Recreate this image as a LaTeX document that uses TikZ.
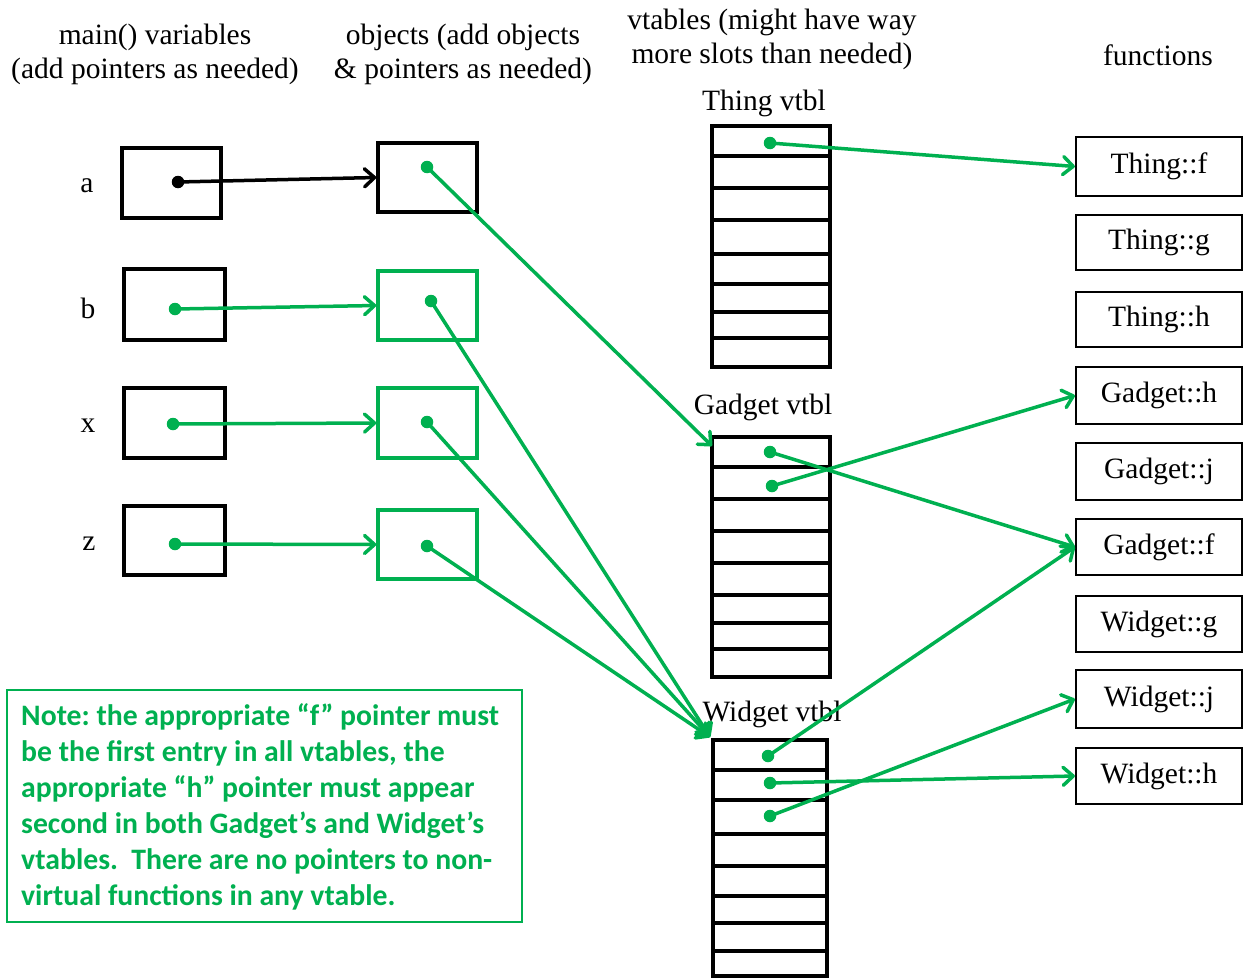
\documentclass[tikz,border=0pt]{standalone}
\usepackage{fontspec}
\setmainfont{Liberation Serif}
\newfontfamily\notefont{Carlito}
\usetikzlibrary{arrows.meta}
\definecolor{ogreen}{HTML}{00B050}
\tikzset{
  box/.style={draw=black, line width=3.5pt, inner sep=0pt},
  fbox/.style={draw=black, line width=2.2pt, inner sep=0pt, minimum width=166pt, font=\fontsize{29.5}{34}\selectfont},
  gbox/.style={draw=ogreen, line width=3.5pt, inner sep=0pt},
  vt/.style={draw=black, line width=4pt, inner sep=0pt, minimum width=118pt},
  slot/.style={line width=4pt},
  lbl/.style={font=\fontsize{29.5}{34}\selectfont, align=center, inner sep=0pt},
  gdot/.style={circle, fill=ogreen, inner sep=0pt, minimum size=12.5pt},
  kdot/.style={circle, fill=black, inner sep=0pt, minimum size=12.5pt},
  gptr/.style={draw=ogreen, line width=3.5pt, -{Straight Barb[length=10pt,width=18pt,round]}},
  kptr/.style={draw=black, line width=3.5pt, -{Straight Barb[length=10pt,width=18pt,round]}},
}
\begin{document}
\begin{tikzpicture}[x=1pt,y=-1pt]
\useasboundingbox (0,0) rectangle (1246,979);
% headers
\node[lbl] (h1) at (155,54) {main() variables\\(add pointers as needed)};
\node[lbl] (h2) at (463,54) {objects (add objects\\\& pointers as needed)};
\node[lbl] (h3) at (772,39) {vtables (might have way\\more slots than needed)};
\node[lbl] (h4) at (1158,55) {functions};
% variable labels
\node[lbl] (la) at (87,186) {a};
\node[lbl] (lb) at (88,308) {b};
\node[lbl] (lx) at (88,426) {x};
\node[lbl] (lz) at (89,544) {z};
% variable boxes
\node[box, minimum width=99pt, minimum height=70pt] (va) at (171.5,183) {};
\node[box, minimum width=101pt, minimum height=71pt] (vb) at (174.5,304.5) {};
\node[box, minimum width=101pt, minimum height=70pt] (vx) at (174.5,423) {};
\node[box, minimum width=101pt, minimum height=69pt] (vz) at (174.5,540.5) {};
% object boxes
\node[box, minimum width=99pt, minimum height=69pt] (oa) at (427.5,177.5) {};
\node[gbox, minimum width=99pt, minimum height=69pt] (ob) at (427.5,305.5) {};
\node[gbox, minimum width=99pt, minimum height=70pt] (ox) at (427.5,423) {};
\node[gbox, minimum width=99pt, minimum height=69pt] (oz) at (427.5,544.5) {};
% vtables
\node[lbl] (tl) at (764,103) {Thing vtbl};
\node[lbl] (gl) at (763,407) {Gadget vtbl};
\node[lbl] (wl) at (772,714) {Widget vtbl};
\node[vt, minimum height=241pt] (tv) at (771,246.5) {};
\node[vt, minimum height=240pt] (gv) at (771,557) {};
\node[vt, minimum width=114pt, minimum height=236pt] (wv) at (770,858) {};
\foreach \y in {156,188,220,254,284,312,338} \draw[slot] (712,\y) -- (830,\y);
\foreach \y in {467,499,531,563,595,623,649} \draw[slot] (712,\y) -- (830,\y);
\foreach \y in {770,800,834,866,896,923,951} \draw[slot] (713,\y) -- (827,\y);
% functions
\node[fbox, minimum height=59pt] (tf) at (1159,166.5) {Thing::f};
\node[fbox, minimum height=55pt] (tg) at (1159,242.5) {Thing::g};
\node[fbox, minimum height=55pt] (th) at (1159,319.5) {Thing::h};
\node[fbox, minimum height=57pt] (gh) at (1159,395.5) {Gadget::h};
\node[fbox, minimum height=57pt] (gj) at (1159,471.5) {Gadget::j};
\node[fbox, minimum height=56pt] (gf) at (1159,547) {Gadget::f};
\node[fbox, minimum height=56pt] (wg) at (1159,624) {Widget::g};
\node[fbox, minimum height=58pt] (wj) at (1159,699) {Widget::j};
\node[fbox, minimum height=56pt] (wh) at (1159,776) {Widget::h};
% dots
\node[kdot] (pva) at (178,182) {};
\node[gdot] (pvb) at (175,309) {};
\node[gdot] (pvx) at (173,424) {};
\node[gdot] (pvz) at (175,544) {};
\node[gdot] (poa) at (427,167) {};
\node[gdot] (pob) at (431,301) {};
\node[gdot] (pox) at (427,422) {};
\node[gdot] (poz) at (427,546) {};
\node[gdot] (pt1) at (770,143) {};
\node[gdot] (pg1) at (770,452) {};
\node[gdot] (pg2) at (772,486) {};
\node[gdot] (pw1) at (768,756) {};
\node[gdot] (pw2) at (770,783) {};
\node[gdot] (pw3) at (770,816) {};
% pointers
\draw[kptr] (pva.center) -- (oa.west);
\draw[gptr] (pvb.center) -- (ob.west);
\draw[gptr] (pvx.center) -- (ox.west);
\draw[gptr] (pvz.center) -- (oz.west);
\coordinate (gin) at (712,446);
\coordinate (win) at (710,737);
\draw[gptr] (poa.center) -- (gin);
\draw[gptr] (pob.center) -- (win);
\draw[gptr] (pox.center) -- (win);
\draw[gptr] (poz.center) -- (win);
\draw[gptr] (pt1.center) -- (tf.west);
\draw[gptr] (pg1.center) -- (gf.west);
\draw[gptr] (pg2.center) -- (gh.west);
\draw[gptr] (pw1.center) -- (gf.west);
\draw[gptr] (pw2.center) -- (wh.west);
\draw[gptr] (pw3.center) -- (wj.west);
% note
\node[draw=ogreen, line width=2pt, minimum width=515pt, minimum height=232pt, inner sep=0pt] (note) at (264.5,806) {};
\node[anchor=west, inner sep=0pt, align=left, text=ogreen, font=\notefont\bfseries\fontsize{29.7}{36}\selectfont\frenchspacing] (notetext) at (21,807) {Note: the appropriate “f” pointer must\\be the first entry in all vtables, the\\appropriate “h” pointer must appear\\second in both Gadget’s and Widget’s\\vtables.\ \ There are no pointers to non-\\virtual functions in any vtable.};
\end{tikzpicture}
\end{document}
